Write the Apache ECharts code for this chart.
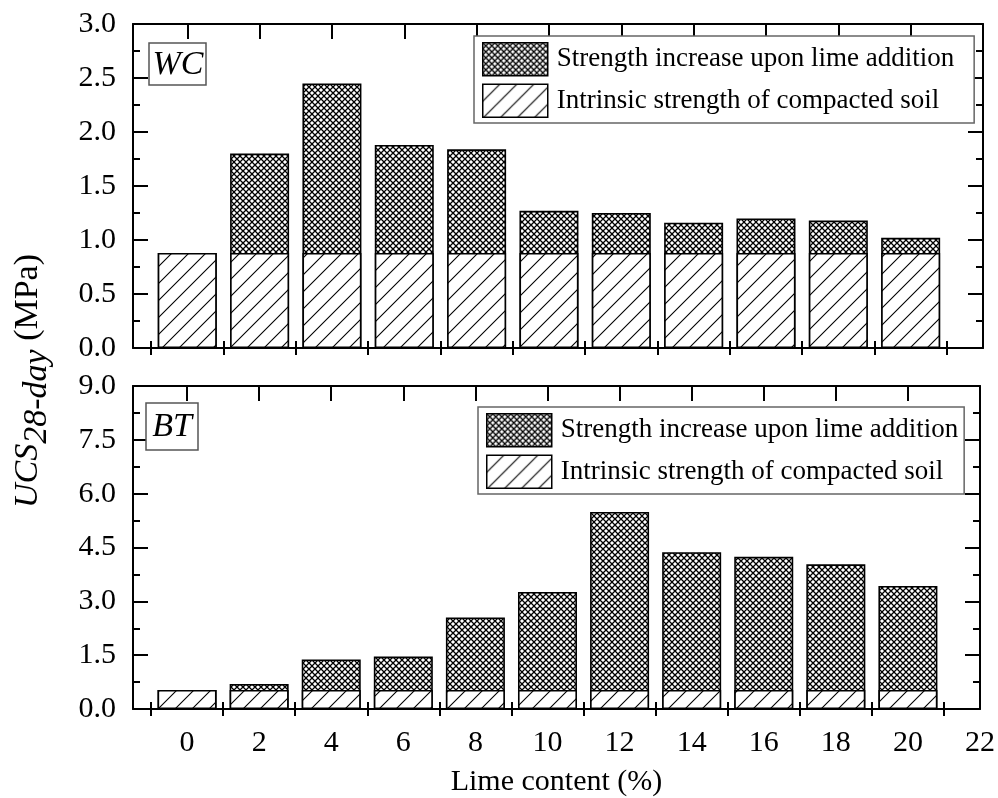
<!DOCTYPE html>
<html>
<head>
<meta charset="utf-8">
<script src="https://cdn.jsdelivr.net/npm/echarts@6/dist/echarts.min.js"></script>
<style>
html,body{margin:0;padding:0;background:#fff;}
#chart{width:998px;height:798px;}
</style>
</head>
<body>
<div id="chart"></div>
<script>
// ---- data ----
var limeContent = [0, 2, 4, 6, 8, 10, 12, 14, 16, 18, 20];
var xTickLabels = [0, 2, 4, 6, 8, 10, 12, 14, 16, 18, 20, 22];
var xMinorTicks = [-1, 1, 3, 5, 7, 9, 11, 13, 15, 17, 19, 21];
// intrinsic strength of compacted soil (MPa)
var wcIntrinsic = [0.88, 0.88, 0.88, 0.88, 0.88, 0.88, 0.88, 0.88, 0.88, 0.88, 0.88];
// total UCS after lime addition (top of the crosshatched part, MPa)
var wcTotal     = [0.88, 1.80, 2.45, 1.88, 1.84, 1.27, 1.25, 1.16, 1.20, 1.18, 1.02];
var btIntrinsic = [0.53, 0.53, 0.53, 0.53, 0.53, 0.53, 0.53, 0.53, 0.53, 0.53, 0.53];
var btTotal     = [0.53, 0.70, 1.38, 1.46, 2.55, 3.26, 5.49, 4.37, 4.24, 4.03, 3.43];
var nameIncrease = 'Strength increase upon lime addition';
var nameIntrinsic = 'Intrinsic strength of compacted soil';
var panelLabels = ['WC', 'BT'];

// ---- patterns ----
function makeHatch() {
  var s = 17, c = document.createElement('canvas');
  c.width = s; c.height = s;
  var g = c.getContext('2d');
  g.fillStyle = '#fff'; g.fillRect(0, 0, s, s);
  g.strokeStyle = '#000'; g.lineWidth = 1.1;
  g.beginPath();
  g.moveTo(-2, s + 2); g.lineTo(s + 2, -2);
  g.moveTo(-2, 2); g.lineTo(2, -2);
  g.moveTo(s - 2, s + 2); g.lineTo(s + 2, s - 2);
  g.stroke();
  return c;
}
function makeCross() {
  var s = 6, c = document.createElement('canvas');
  c.width = s; c.height = s;
  var g = c.getContext('2d');
  g.fillStyle = '#fff'; g.fillRect(0, 0, s, s);
  g.strokeStyle = '#000'; g.lineWidth = 1.3;
  g.beginPath();
  g.moveTo(-1, -1); g.lineTo(s + 1, s + 1);
  g.moveTo(-1, s + 1); g.lineTo(s + 1, -1);
  g.stroke();
  return c;
}
var hatchFill = { image: makeHatch(), repeat: 'repeat' };
var crossFill = { image: makeCross(), repeat: 'repeat' };

var FONT = '"Liberation Serif", "Times New Roman", serif';
var grids = [
  { left: 133, right: 15, top: 24, height: 324 },
  { left: 133, right: 15, top: 386, height: 324 }
];

function xAxes(gi, showLabels) {
  var base = { type: 'value', gridIndex: gi, min: -1.5, max: 22, splitLine: { show: false } };
  var line = { show: true, onZero: false, lineStyle: { color: '#000', width: 2 } };
  return [
    Object.assign({}, base, {
      position: 'bottom', axisLine: line,
      axisTick: { show: true, inside: true, length: 15, customValues: xTickLabels, lineStyle: { color: '#000', width: 2 } },
      axisLabel: { show: showLabels, customValues: xTickLabels, margin: 19, fontFamily: FONT, fontSize: 30, color: '#000' },
      name: showLabels ? 'Lime content (%)' : '', nameLocation: 'middle', nameGap: 58,
      nameTextStyle: { fontFamily: FONT, fontSize: 30, color: '#000' }
    }),
    Object.assign({}, base, {
      position: 'bottom', axisLine: { show: false },
      axisTick: { show: true, inside: true, length: 7, customValues: xMinorTicks, lineStyle: { color: '#000', width: 2 } },
      axisLabel: { show: false }
    }),
    Object.assign({}, base, {
      position: 'top', axisLine: line,
      axisTick: { show: true, inside: true, length: 15, customValues: xTickLabels, lineStyle: { color: '#000', width: 2 } },
      axisLabel: { show: false }
    }),
    Object.assign({}, base, {
      position: 'top', axisLine: { show: false },
      axisTick: { show: true, inside: true, length: 7, customValues: xMinorTicks, lineStyle: { color: '#000', width: 2 } },
      axisLabel: { show: false }
    })
  ];
}
function yAxes(gi, max, interval) {
  var line = { show: true, onZero: false, lineStyle: { color: '#000', width: 2 } };
  var base = {
    type: 'value', gridIndex: gi, min: 0, max: max, interval: interval,
    splitLine: { show: false }, axisLine: line,
    axisTick: { show: true, inside: true, length: 15, lineStyle: { color: '#000', width: 2 } },
    minorTick: { show: true, splitNumber: 2, length: 7, lineStyle: { color: '#000', width: 2 } }
  };
  return [
    Object.assign({}, base, {
      position: 'left',
      axisLabel: { show: true, margin: 17, fontFamily: FONT, fontSize: 30, color: '#000', formatter: function (v) { return v.toFixed(1); } }
    }),
    Object.assign({}, base, { position: 'right', axisLabel: { show: false } })
  ];
}

function pairs(vals) {
  return limeContent.map(function (x, i) { return [x, vals[i]]; });
}
// total bar (crosshatch) drawn behind; intrinsic bar (hatch) drawn in front at the same position
function barSeries(name, vals, fill, xi, yi, z) {
  return {
    type: 'bar', name: name, xAxisIndex: xi, yAxisIndex: yi,
    barWidth: 59, barGap: '-100%', z: z, data: pairs(vals),
    itemStyle: { color: fill, borderColor: '#000', borderWidth: 1.6 },
    emphasis: { disabled: true }, animation: false
  };
}

function legendCfg(left, top, padRight) {
  return {
    left: left, top: top, orient: 'vertical', icon: 'rect',
    itemWidth: 65, itemHeight: 33, itemGap: 7,
    padding: [6, padRight, 5, 8],
    borderColor: '#666', borderWidth: 1.5, backgroundColor: '#fff',
    selectedMode: false,
    itemStyle: { borderColor: '#000', borderWidth: 1.5 },
    textStyle: { fontFamily: FONT, fontSize: 27, color: '#000', padding: [0, 0, 0, 4] },
    data: [nameIncrease, nameIntrinsic]
  };
}

// y-title measurement
var mctx = document.createElement('canvas').getContext('2d');
function tw(font, s) { mctx.font = font; return mctx.measureText(s).width; }
var fI = 'italic 34px "Liberation Serif"', fN = '34px "Liberation Serif"';
var t1 = 'UCS', t2 = '28-day', t3 = ' (MPa)';
var w1 = tw(fI, t1), w2 = tw(fI, t2), w3 = tw(fN, t3);
var wt = w1 + w2 + w3;
var x0 = -wt / 2;

var chart = echarts.init(document.getElementById('chart'), null, { renderer: 'canvas' });
chart.setOption({
  animation: false,
  backgroundColor: '#fff',
  grid: grids,
  xAxis: xAxes(0, false).concat(xAxes(1, true)),
  yAxis: yAxes(0, 3, 0.5).concat(yAxes(1, 9, 1.5)),
  legend: [legendCfg(474, 36, 20), legendCfg(478, 407, 6)],
  series: [
    barSeries(nameIncrease, wcTotal, crossFill, 0, 0, 2),
    barSeries(nameIntrinsic, wcIntrinsic, hatchFill, 0, 0, 3),
    barSeries(nameIncrease, btTotal, crossFill, 4, 2, 2),
    barSeries(nameIntrinsic, btIntrinsic, hatchFill, 4, 2, 3)
  ],
  graphic: [
    { type: 'rect', shape: { x: 149, y: 43, width: 57, height: 42 }, style: { fill: '#fff', stroke: '#555', lineWidth: 1.5 }, z: 10 },
    { type: 'text', x: 178, y: 65, style: { text: panelLabels[0], fontFamily: 'Liberation Serif', fontStyle: 'italic', fontSize: 34, fill: '#000', textAlign: 'center', textVerticalAlign: 'middle' }, z: 11 },
    { type: 'rect', shape: { x: 146, y: 403, width: 52, height: 47 }, style: { fill: '#fff', stroke: '#555', lineWidth: 1.5 }, z: 10 },
    { type: 'text', x: 172, y: 427, style: { text: panelLabels[1], fontFamily: 'Liberation Serif', fontStyle: 'italic', fontSize: 34, fill: '#000', textAlign: 'center', textVerticalAlign: 'middle' }, z: 11 },
    {
      type: 'group', x: 28, y: 381, rotation: Math.PI / 2,
      children: [
        { type: 'text', x: x0, y: 0, style: { text: t1, font: fI, fill: '#000', textAlign: 'left', textVerticalAlign: 'middle' } },
        { type: 'text', x: x0 + w1, y: 9, style: { text: t2, font: fI, fill: '#000', textAlign: 'left', textVerticalAlign: 'middle' } },
        { type: 'text', x: x0 + w1 + w2, y: 0, style: { text: t3, font: fN, fill: '#000', textAlign: 'left', textVerticalAlign: 'middle' } }
      ]
    }
  ]
});
</script>
</body>
</html>
